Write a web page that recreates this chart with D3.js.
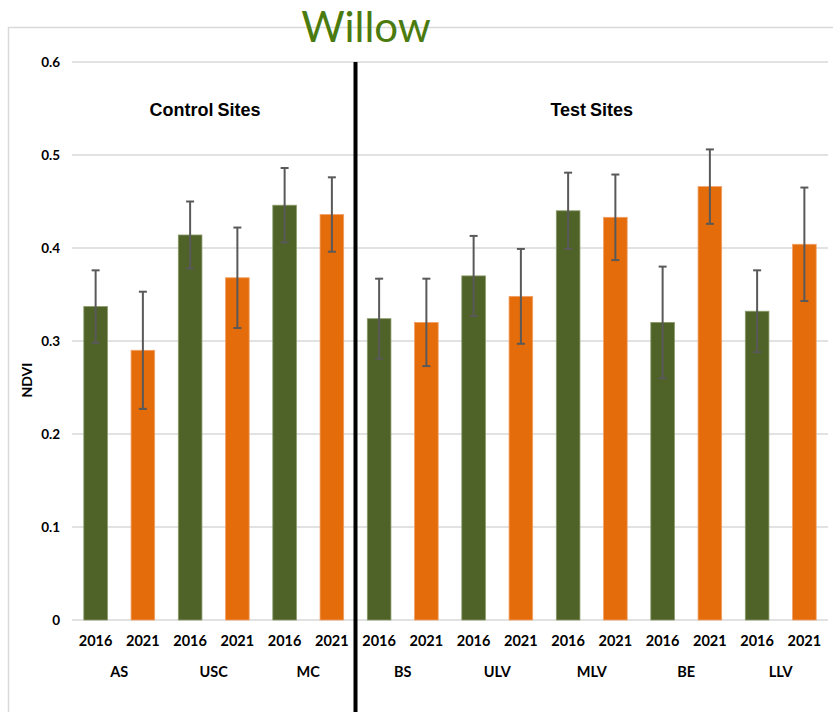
<!DOCTYPE html>
<html>
<head>
<meta charset="utf-8">
<script src="https://cdn.jsdelivr.net/npm/d3@7"></script>
<style>
  html, body { margin: 0; padding: 0; background: #fff; }
  svg { display: block; font-family: Lato, "Open Sans", sans-serif; }
</style>
</head>
<body>
<svg id="chart" width="833" height="712"></svg>
<script>
// Willow NDVI by site and year (mean ± error)
const sites    = ["AS", "USC", "MC", "BS", "ULV", "MLV", "BE", "LLV"];
const years    = ["2016", "2021"];
const ndvi2016 = [0.337, 0.414, 0.446, 0.324, 0.370, 0.440, 0.320, 0.332];
const ndvi2021 = [0.290, 0.368, 0.436, 0.320, 0.348, 0.433, 0.466, 0.404];
const err2016  = [0.039, 0.036, 0.040, 0.043, 0.043, 0.041, 0.060, 0.044];
const err2021  = [0.063, 0.054, 0.040, 0.047, 0.051, 0.046, 0.040, 0.061];
const yTicks   = [0, 0.1, 0.2, 0.3, 0.4, 0.5, 0.6];
const yTickLabels = ["0", "0.1", "0.2", "0.3", "0.4", "0.5", "0.6"];
const sections = [
  { name: "Control Sites", sites: ["AS", "USC", "MC"] },
  { name: "Test Sites",    sites: ["BS", "ULV", "MLV", "BE", "LLV"] }
];

const colors = { "2016": "#4F6228", "2021": "#E46C0A" };

const rows = [];
sites.forEach((s, i) => {
  rows.push({ site: s, year: years[0], value: ndvi2016[i], err: err2016[i] });
  rows.push({ site: s, year: years[1], value: ndvi2021[i], err: err2021[i] });
});

const svg = d3.select("#chart");
const plotLeft = 72, plotRight = 828, plotTop = 62, plotBottom = 620;

// chart frame
svg.append("rect")
  .attr("x", 8.5).attr("y", 27.5)
  .attr("width", 840).attr("height", 720)
  .attr("fill", "none").attr("stroke", "#d9d9d9").attr("stroke-width", 1.5);

const x = d3.scaleBand()
  .domain(rows.map(d => d.site + "-" + d.year))
  .range([plotLeft, plotRight])
  .paddingInner(0.5).paddingOuter(0.25);

const y = d3.scaleLinear().domain([0, 0.6]).range([plotBottom, plotTop]);

// gridlines
svg.append("g")
  .selectAll("line")
  .data(yTicks)
  .join("line")
  .attr("x1", plotLeft).attr("x2", plotRight)
  .attr("y1", d => y(d)).attr("y2", d => y(d))
  .attr("stroke", "#d9d9d9").attr("stroke-width", 1.5);

// y axis labels
const yAxis = d3.axisLeft(y)
  .tickValues(yTicks)
  .tickFormat((d, i) => yTickLabels[i])
  .tickSize(0).tickPadding(0);
const yg = svg.append("g").attr("transform", `translate(60,0)`).call(yAxis);
yg.select(".domain").remove();
yg.attr("font-family", null).attr("font-size", null);
yg.selectAll("text")
  .attr("font-size", 13.5).attr("font-weight", "bold").attr("fill", "#000");

svg.append("text")
  .attr("transform", `translate(32,380) rotate(-90)`)
  .attr("text-anchor", "middle")
  .attr("font-size", 14).attr("font-weight", "bold")
  .text("NDVI");

// bars
svg.append("g")
  .selectAll("rect")
  .data(rows)
  .join("rect")
  .attr("x", d => x(d.site + "-" + d.year))
  .attr("width", x.bandwidth())
  .attr("y", d => y(d.value))
  .attr("height", d => y(0) - y(d.value))
  .attr("fill", d => colors[d.year])
  .attr("stroke", d => d.year === years[0] ? "#8a9a6a" : "#f2a066")
  .attr("stroke-width", 0.8);

// error bars
const eg = svg.append("g").attr("stroke", "#595959").attr("stroke-width", 2);
rows.forEach(d => {
  const cx = x(d.site + "-" + d.year) + x.bandwidth() / 2;
  const y1 = y(d.value + d.err), y2 = y(d.value - d.err);
  eg.append("line").attr("x1", cx).attr("x2", cx).attr("y1", y1).attr("y2", y2);
  eg.append("line").attr("x1", cx - 4).attr("x2", cx + 4).attr("y1", y1).attr("y2", y1);
  eg.append("line").attr("x1", cx - 4).attr("x2", cx + 4).attr("y1", y2).attr("y2", y2);
});

// year labels
svg.append("g")
  .selectAll("text")
  .data(rows)
  .join("text")
  .attr("x", d => x(d.site + "-" + d.year) + x.bandwidth() / 2)
  .attr("y", 646)
  .attr("text-anchor", "middle")
  .attr("font-size", 14.5).attr("font-weight", "bold")
  .text(d => d.year);

// site labels
svg.append("g")
  .selectAll("text")
  .data(sites)
  .join("text")
  .attr("x", s => (x(s + "-" + years[0]) + x(s + "-" + years[1]) + x.bandwidth()) / 2)
  .attr("y", 677)
  .attr("text-anchor", "middle")
  .attr("font-size", 14.5).attr("font-weight", "bold")
  .text(s => s);

// divider between control and test sites
const lastControl = sections[0].sites[sections[0].sites.length - 1];
const firstTest = sections[1].sites[0];
const divX = (x(lastControl + "-" + years[1]) + x.bandwidth() + x(firstTest + "-" + years[0])) / 2;
svg.append("line")
  .attr("x1", divX).attr("x2", divX)
  .attr("y1", plotTop).attr("y2", 712)
  .attr("stroke", "#000").attr("stroke-width", 4);

// section titles
[[205, sections[0].name], [(divX + plotRight) / 2, sections[1].name]].forEach(([cx, name]) => {
  svg.append("text")
    .attr("x", cx).attr("y", 116)
    .attr("text-anchor", "middle")
    .style("font-family", "'Liberation Sans', Arial, sans-serif")
    .attr("font-size", 18).attr("font-weight", "bold")
    .attr("word-spacing", -1)
    .text(name);
});

// title
svg.append("text")
  .attr("x", 366).attr("y", 42)
  .attr("text-anchor", "middle")
  .attr("font-size", 42)
  .attr("fill", "#4B7B0E")
  .text("Willow");
</script>
</body>
</html>
